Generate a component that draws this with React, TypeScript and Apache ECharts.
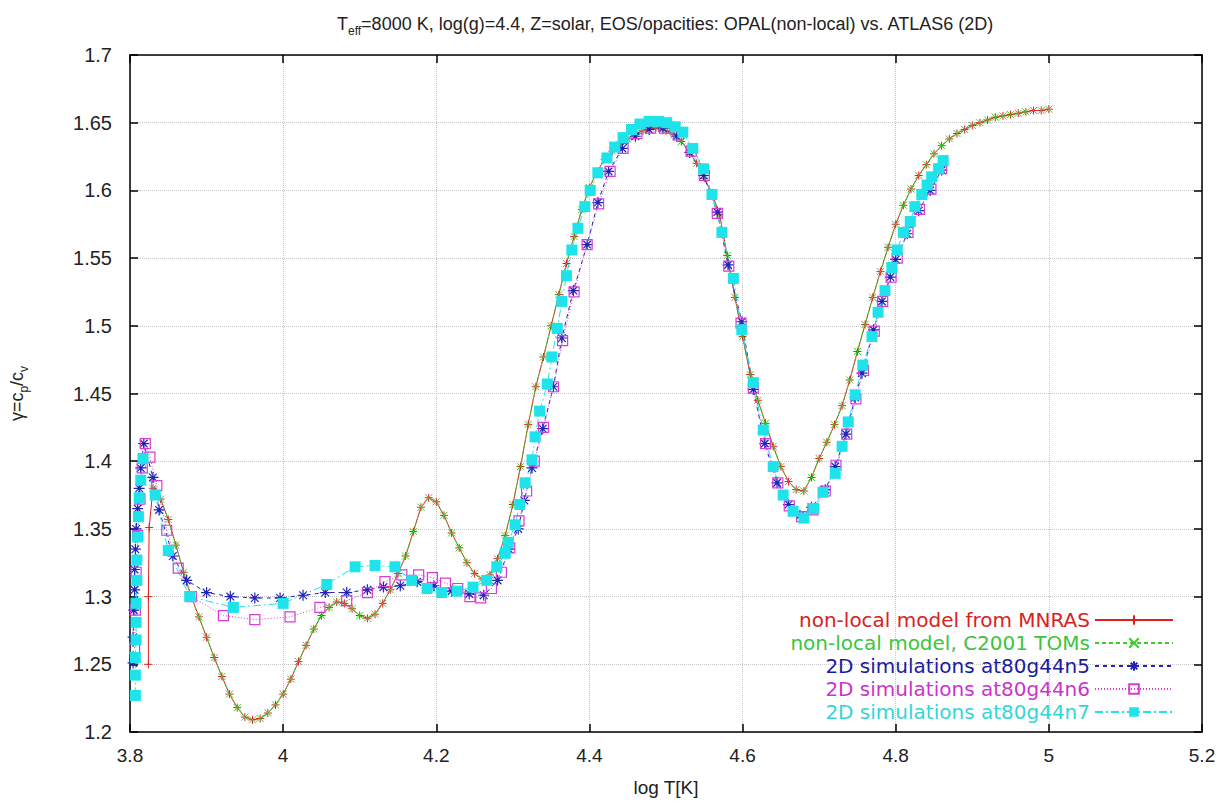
import React, { useEffect, useRef } from "react";
import * as echarts from "echarts";

const titleText = "{t|T}{s|eff}{t|=8000 K, log(g)=4.4, Z=solar, EOS/opacities: OPAL(non-local) vs. ATLAS6 (2D)}";
const xTitle = "log T[K]";
const legendNames = [
  "non-local model from MNRAS",
  "non-local model, C2001 TOMs",
  "2D simulations at80g44n5",
  "2D simulations at80g44n6",
  "2D simulations at80g44n7",
];

// model grid (log T) and gamma
const modelT = [
  3.83, 3.84, 3.85, 3.86, 3.87, 3.88, 3.89, 3.9, 3.91, 3.92, 3.93, 3.94, 3.95, 3.96, 3.97, 3.98, 3.99,
  4.0, 4.01, 4.02, 4.03, 4.04, 4.05, 4.06, 4.07, 4.08, 4.09, 4.1, 4.11, 4.12, 4.13, 4.14, 4.15, 4.16,
  4.17, 4.18, 4.19, 4.2, 4.21, 4.22, 4.23, 4.24, 4.25, 4.26, 4.27, 4.28, 4.29, 4.3, 4.31, 4.32, 4.33,
  4.34, 4.35, 4.36, 4.37, 4.38, 4.39, 4.4, 4.41, 4.42, 4.43, 4.44, 4.45, 4.46, 4.47, 4.48, 4.49, 4.5,
  4.51, 4.52, 4.53, 4.54, 4.55, 4.56, 4.57, 4.58, 4.59, 4.6, 4.61, 4.62, 4.63, 4.64, 4.65, 4.66, 4.67,
  4.68, 4.69, 4.7, 4.71, 4.72, 4.73, 4.74, 4.75, 4.76, 4.77, 4.78, 4.79, 4.8, 4.81, 4.82, 4.83, 4.84,
  4.85, 4.86, 4.87, 4.88, 4.89, 4.9, 4.91, 4.92, 4.93, 4.94, 4.95, 4.96, 4.97, 4.98, 4.99, 5.0,
];
const modelGamma = [
  1.38, 1.372, 1.357, 1.338, 1.318, 1.3, 1.285, 1.27, 1.255, 1.241, 1.228, 1.218, 1.211, 1.209, 1.21, 1.214, 1.22,
  1.228, 1.239, 1.252, 1.264, 1.276, 1.286, 1.292, 1.296, 1.295, 1.291, 1.286, 1.284, 1.287, 1.295, 1.305, 1.317, 1.33,
  1.348, 1.366, 1.373, 1.37, 1.36, 1.347, 1.336, 1.325, 1.317, 1.313, 1.316, 1.328, 1.345, 1.368, 1.396, 1.427, 1.455,
  1.477, 1.5, 1.523, 1.546, 1.566, 1.586, 1.602, 1.614, 1.623, 1.629, 1.634, 1.638, 1.642, 1.644, 1.646, 1.646, 1.644,
  1.641, 1.636, 1.629, 1.62, 1.609, 1.598, 1.582, 1.552, 1.521, 1.492, 1.464, 1.445, 1.428, 1.411, 1.396, 1.385, 1.379,
  1.378, 1.388, 1.402, 1.414, 1.427, 1.441, 1.46, 1.481, 1.501, 1.521, 1.54, 1.558, 1.575, 1.589, 1.601, 1.611, 1.619,
  1.627, 1.633, 1.638, 1.642, 1.645, 1.648, 1.65, 1.652, 1.654, 1.655, 1.656, 1.657, 1.658, 1.659, 1.659, 1.66,
];
// surface end of the MNRAS model (vertical drop)
const mnrasEdge = [
  [3.824, 1.25],
  [3.824, 1.3],
  [3.825, 1.351],
];

const sim5 = [
  [3.804, 1.251], [3.804, 1.27], [3.805, 1.29], [3.806, 1.305], [3.806, 1.32], [3.807, 1.335], [3.808, 1.35],
  [3.81, 1.365], [3.812, 1.38], [3.814, 1.395], [3.818, 1.413], [3.83, 1.388], [3.838, 1.364], [3.856, 1.33],
  [3.874, 1.312], [3.9, 1.303], [3.931, 1.3], [3.963, 1.299], [3.996, 1.299], [4.026, 1.301], [4.055, 1.303],
  [4.083, 1.303], [4.11, 1.305], [4.131, 1.307], [4.153, 1.308], [4.175, 1.311], [4.197, 1.308], [4.22, 1.304],
  [4.243, 1.302], [4.262, 1.301], [4.28, 1.312], [4.295, 1.335], [4.307, 1.35], [4.315, 1.371], [4.325, 1.395],
  [4.339, 1.424], [4.353, 1.455], [4.364, 1.491], [4.379, 1.526], [4.397, 1.56], [4.411, 1.591], [4.425, 1.614],
  [4.443, 1.631], [4.46, 1.64], [4.478, 1.645], [4.496, 1.646], [4.514, 1.64], [4.531, 1.628], [4.549, 1.611],
  [4.567, 1.584], [4.581, 1.545], [4.599, 1.503], [4.614, 1.453], [4.629, 1.413], [4.645, 1.384], [4.66, 1.368],
  [4.675, 1.36], [4.69, 1.366], [4.708, 1.379], [4.721, 1.396], [4.735, 1.42], [4.747, 1.447], [4.756, 1.465],
  [4.771, 1.497], [4.782, 1.518], [4.793, 1.536], [4.8, 1.549], [4.815, 1.568], [4.83, 1.585], [4.845, 1.6],
  [4.86, 1.615],
];

const sim6 = [
  [3.806, 1.262], [3.807, 1.29], [3.808, 1.318], [3.81, 1.345], [3.813, 1.372], [3.816, 1.395], [3.82, 1.413],
  [3.826, 1.403], [3.835, 1.382], [3.848, 1.349], [3.863, 1.321], [3.88, 1.3], [3.922, 1.286], [3.963, 1.283],
  [4.009, 1.285], [4.048, 1.292], [4.083, 1.297], [4.11, 1.303], [4.133, 1.311], [4.155, 1.316], [4.177, 1.316],
  [4.195, 1.314], [4.212, 1.31], [4.228, 1.306], [4.244, 1.3], [4.258, 1.299], [4.272, 1.306], [4.285, 1.318],
  [4.296, 1.336], [4.308, 1.356], [4.318, 1.378], [4.328, 1.4], [4.34, 1.425], [4.353, 1.455], [4.365, 1.489],
  [4.38, 1.525], [4.397, 1.56], [4.412, 1.59], [4.427, 1.614], [4.444, 1.631], [4.462, 1.642], [4.48, 1.646],
  [4.498, 1.646], [4.516, 1.641], [4.533, 1.629], [4.55, 1.611], [4.567, 1.583], [4.582, 1.544], [4.598, 1.502],
  [4.614, 1.454], [4.63, 1.413], [4.646, 1.384], [4.661, 1.367], [4.677, 1.359], [4.692, 1.364], [4.708, 1.378],
  [4.722, 1.397], [4.736, 1.42], [4.748, 1.446], [4.758, 1.467], [4.772, 1.496], [4.783, 1.518], [4.794, 1.536],
  [4.802, 1.55], [4.816, 1.569], [4.831, 1.586], [4.846, 1.601], [4.86, 1.616],
];

const sim7 = [
  [3.807, 1.227], [3.807, 1.242], [3.807, 1.255], [3.808, 1.268], [3.808, 1.281], [3.808, 1.295], [3.809, 1.312],
  [3.809, 1.327], [3.81, 1.344], [3.811, 1.359], [3.812, 1.373], [3.814, 1.386], [3.817, 1.402], [3.833, 1.375],
  [3.85, 1.334], [3.878, 1.3], [3.935, 1.292], [4.0, 1.295], [4.057, 1.309], [4.094, 1.322], [4.12, 1.323],
  [4.146, 1.322], [4.168, 1.312], [4.188, 1.306], [4.207, 1.303], [4.227, 1.304], [4.248, 1.307], [4.266, 1.312],
  [4.279, 1.322], [4.29, 1.332], [4.294, 1.34], [4.303, 1.353], [4.309, 1.368], [4.316, 1.384], [4.325, 1.401],
  [4.329, 1.418], [4.335, 1.437], [4.345, 1.457], [4.351, 1.477], [4.358, 1.498], [4.364, 1.518], [4.37, 1.537],
  [4.377, 1.556], [4.385, 1.572], [4.394, 1.588], [4.401, 1.6], [4.411, 1.613], [4.423, 1.624], [4.433, 1.632],
  [4.444, 1.639], [4.455, 1.645], [4.466, 1.649], [4.478, 1.651], [4.49, 1.651], [4.501, 1.65], [4.512, 1.647],
  [4.522, 1.643], [4.535, 1.631], [4.549, 1.616], [4.56, 1.597], [4.573, 1.569], [4.588, 1.535], [4.599, 1.497],
  [4.614, 1.458], [4.627, 1.423], [4.64, 1.396], [4.653, 1.375], [4.666, 1.363], [4.68, 1.358], [4.693, 1.365],
  [4.705, 1.377], [4.721, 1.391], [4.73, 1.411], [4.738, 1.429], [4.747, 1.449], [4.757, 1.471], [4.769, 1.492],
  [4.777, 1.51], [4.786, 1.526], [4.795, 1.543], [4.802, 1.556], [4.81, 1.569], [4.819, 1.577], [4.825, 1.588],
  [4.834, 1.597], [4.841, 1.604], [4.847, 1.61], [4.856, 1.616], [4.862, 1.622],
];

const colors = ["#e0201c", "#3ccc2c", "#2222b8", "#d63cd6", "#1fe3ea"];
const legendTextColors = ["#d8221e", "#3cc43c", "#1a1aa0", "#cc33cc", "#33d6d6"];

const PLUS = "path://M5,0L5,10M0,5L10,5";
const CROSS = "path://M0,0L10,10M10,0L0,10";
const STAR = "path://M5,0L5,10M0,5L10,5M1.5,1.5L8.5,8.5M8.5,1.5L1.5,8.5";

export default function App() {
  const ref = useRef<HTMLDivElement>(null);
  useEffect(() => {
    if (!ref.current) return;
    const chart = echarts.init(ref.current, undefined, { renderer: "svg" });
    const font = "Liberation Sans";
    const modelData = modelT.map((t, i) => [t, modelGamma[i]]);
    const redData = [...mnrasEdge, ...modelData];
    const gridLine = { show: true, lineStyle: { color: "#c4c4c4", type: "dotted" as const, width: 1 } };
    const axisLine = { show: true, lineStyle: { color: "#000", width: 1.5 } };
    const tick = { show: true, inside: true, length: 8, lineStyle: { color: "#000", width: 1.5 } };
    const xFmt = (v: number) => String(+v.toFixed(1));
    const yFmt = (v: number) => String(+v.toFixed(2));

    chart.setOption({
      animation: false,
      backgroundColor: "#fff",
      title: {
        text: titleText,
        left: 332,
        top: 6,
        textStyle: {
          fontWeight: "normal",
          rich: {
            t: { fontFamily: font, fontSize: 18, fontWeight: "normal", color: "#222", lineHeight: 22, verticalAlign: "bottom" },
            s: { fontFamily: font, fontSize: 12, fontWeight: "normal", color: "#222", lineHeight: 14, verticalAlign: "bottom", padding: [0, 0, -4, 0] },
          },
        },
      },
      grid: { left: 130, right: 27, top: 55, bottom: 71, containLabel: false },
      legend: {
        orient: "vertical",
        right: 50,
        top: 605,
        align: "right",
        itemWidth: 78,
        itemHeight: 12,
        itemGap: 3,
        textStyle: { fontFamily: "DejaVu Sans", fontSize: 20, lineHeight: 19 },
        data: legendNames.map((n, i) => ({ name: n, textStyle: { color: legendTextColors[i] } })),
      },
      xAxis: [
        {
          type: "value",
          min: 3.8,
          max: 5.2,
          interval: 0.2,
          name: xTitle,
          nameLocation: "middle",
          nameGap: 46,
          nameTextStyle: { fontFamily: font, fontSize: 19, color: "#222" },
          axisLine,
          axisTick: tick,
          axisLabel: { fontFamily: font, fontSize: 19, color: "#222", margin: 14, formatter: xFmt },
          splitLine: gridLine,
        },
        {
          type: "value",
          position: "top",
          min: 3.8,
          max: 5.2,
          interval: 0.2,
          axisLine,
          axisTick: tick,
          axisLabel: { show: false },
          splitLine: { show: false },
        },
      ],
      yAxis: [
        {
          type: "value",
          min: 1.2,
          max: 1.7,
          interval: 0.05,
          name: "{t|γ=c}{s|p}{t|/c}{s|v}",
          nameLocation: "middle",
          nameRotate: 90,
          nameGap: 104,
          nameTextStyle: {
            rich: {
              t: { fontFamily: font, fontSize: 18, color: "#222", lineHeight: 22, verticalAlign: "bottom" },
              s: { fontFamily: font, fontSize: 12, color: "#222", lineHeight: 14, verticalAlign: "bottom", padding: [0, 0, -4, 0] },
            },
          },
          axisLine,
          axisTick: tick,
          axisLabel: { fontFamily: font, fontSize: 20, color: "#222", margin: 18, formatter: yFmt },
          splitLine: gridLine,
        },
        {
          type: "value",
          position: "right",
          min: 1.2,
          max: 1.7,
          interval: 0.05,
          axisLine,
          axisTick: tick,
          axisLabel: { show: false },
          splitLine: { show: false },
        },
      ],
      series: [
        {
          name: legendNames[0],
          type: "line",
          data: redData,
          showAllSymbol: true,
          symbol: PLUS,
          symbolSize: 8,
          lineStyle: { color: colors[0], width: 1 },
          itemStyle: { color: colors[0], borderColor: colors[0], borderWidth: 1 },
        },
        {
          name: legendNames[1],
          type: "line",
          data: modelData,
          showAllSymbol: true,
          symbol: CROSS,
          symbolSize: 7,
          lineStyle: { color: colors[1], width: 1, type: [4, 3] },
          itemStyle: { color: colors[1], borderColor: colors[1], borderWidth: 1 },
        },
        {
          name: legendNames[2],
          type: "line",
          data: sim5,
          showAllSymbol: true,
          symbol: STAR,
          symbolSize: 11,
          lineStyle: { color: colors[2], width: 1, type: [4, 4] },
          itemStyle: { color: colors[2], borderColor: colors[2], borderWidth: 1.2 },
        },
        {
          name: legendNames[3],
          type: "line",
          data: sim6,
          showAllSymbol: true,
          symbol: "rect",
          symbolSize: 10,
          lineStyle: { color: colors[3], width: 1, type: [1, 2] },
          itemStyle: { color: "rgba(255,255,255,0)", borderColor: colors[3], borderWidth: 1.2 },
        },
        {
          name: legendNames[4],
          type: "line",
          data: sim7,
          showAllSymbol: true,
          symbol: "rect",
          symbolSize: 11,
          lineStyle: { color: colors[4], width: 1, type: [8, 3, 2, 3] },
          itemStyle: { color: colors[4] },
        },
      ],
    });
    return () => chart.dispose();
  }, []);
  return (
    <div
      ref={ref}
      style={{ position: "fixed", left: 0, top: 0, width: 1229, height: 803, background: "#fff" }}
    />
  );
}
